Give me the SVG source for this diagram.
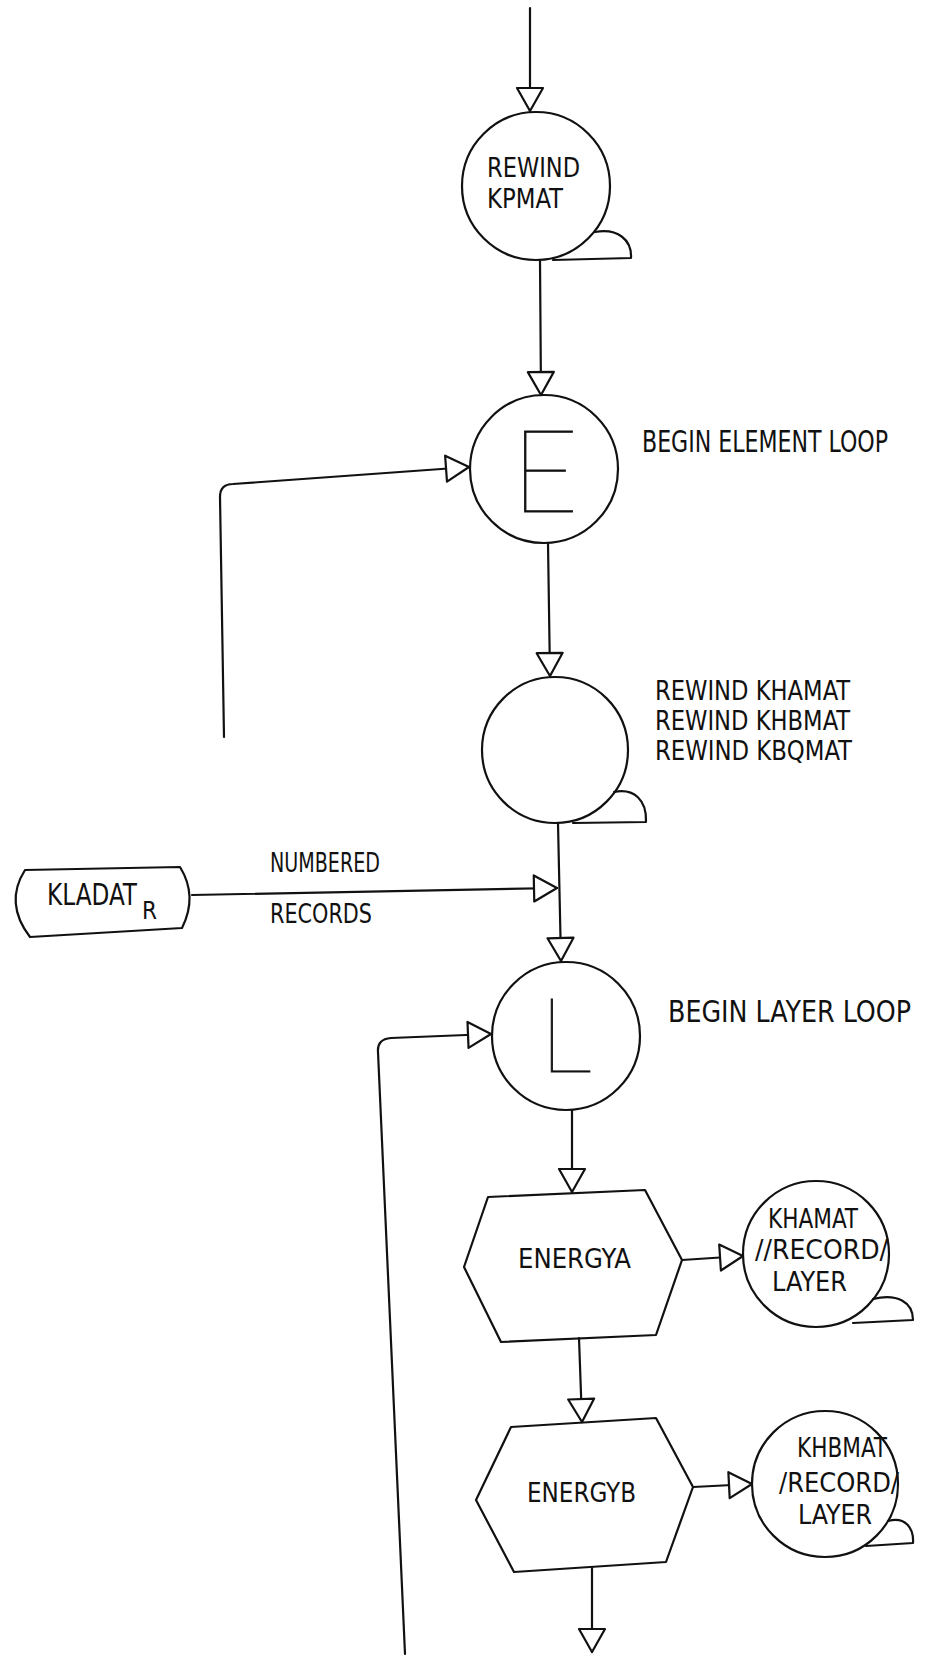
<svg xmlns="http://www.w3.org/2000/svg" width="929" height="1656" viewBox="0 0 929 1656">
<style>
.s{fill:none;stroke:#111;stroke-width:2.2;stroke-linecap:round;stroke-linejoin:round}
.t{font-family:"Liberation Sans Narrow","DejaVu Sans Condensed","Liberation Sans",sans-serif;font-size:30px;fill:#111}
.m{font-size:27px}
.k{font-size:27px}
.big{font-family:"Lato","Inter","DejaVu Sans",sans-serif;font-weight:100;fill:#111;stroke:#111;stroke-width:0.9}
</style>
<defs>
<marker id="ah" markerUnits="userSpaceOnUse" markerWidth="30" markerHeight="30" viewBox="-2 -2 30 30" refX="23" refY="13" orient="auto" overflow="visible">
<path d="M0,0 L23,13 L0,26 Z" fill="#fff" stroke="#111" stroke-width="2.2" stroke-linejoin="round"/>
</marker>
</defs>
<rect width="929" height="1656" fill="#fff"/>
<g id="connectors" class="s" marker-end="url(#ah)">
<path d="M530,8 L530,111"/>
<path d="M540,260 L541,395"/>
<path d="M548,543 L550,676"/>
<path d="M558,823 L561,961"/>
<path d="M192,895 L557,888"/>
<path d="M224,737 L220,497 Q220,484 233,484 L469,467"/>
<path d="M572,1110 L572,1192"/>
<path d="M682,1260 L743,1256"/>
<path d="M579,1338 L582,1422"/>
<path d="M693,1487 L752,1484"/>
<path d="M592,1567 L592,1652"/>
<path d="M405,1654 L378,1052 Q377,1039 391,1038 L491,1034"/>
</g>
<g id="rewind-kpmat">
<circle class="s" cx="536" cy="186" r="74"/>
<path class="s" d="M595,232 C618,228 632,240 631,258 L553,260"/>
<text class="t k" x="487" y="177" textLength="93" lengthAdjust="spacingAndGlyphs">REWIND</text>
<text class="t k" x="487" y="208" textLength="76" lengthAdjust="spacingAndGlyphs">KPMAT</text>
</g>
<g id="element-loop">
<circle class="s" cx="544" cy="469" r="74"/>
<text class="big" x="511" y="512" font-size="117">E</text>
<text class="t" x="642" y="452" textLength="246" lengthAdjust="spacingAndGlyphs">BEGIN ELEMENT LOOP</text>
</g>
<g id="rewind-three">
<circle class="s" cx="555" cy="750" r="73"/>
<path class="s" d="M614,792 C634,788 647,800 646,822 L573,823"/>
<text class="t k" x="655" y="700" textLength="195" lengthAdjust="spacingAndGlyphs">REWIND KHAMAT</text>
<text class="t k" x="655" y="730" textLength="195" lengthAdjust="spacingAndGlyphs">REWIND KHBMAT</text>
<text class="t k" x="655" y="760" textLength="197" lengthAdjust="spacingAndGlyphs">REWIND KBQMAT</text>
</g>
<g id="kladat">
<path class="s" d="M25,870 L180,867 Q198,896 182,928 L30,937 Q4,903 25,870 Z"/>
<text class="t" x="47" y="905"><tspan textLength="90" lengthAdjust="spacingAndGlyphs">KLADAT</tspan><tspan x="142" y="919" font-size="24">R</tspan></text>
</g>
<g id="numbered-records-label">
<text class="t m" x="270" y="872" textLength="110" lengthAdjust="spacingAndGlyphs">NUMBERED</text>
<text class="t m" x="270" y="923" textLength="102" lengthAdjust="spacingAndGlyphs">RECORDS</text>
</g>
<g id="layer-loop">
<circle class="s" cx="566" cy="1036" r="74"/>
<text class="big" x="539" y="1072" font-size="105">L</text>
<text class="t" x="668" y="1022" textLength="243" lengthAdjust="spacingAndGlyphs">BEGIN LAYER LOOP</text>
</g>
<g id="energya">
<polygon class="s" points="488,1197 645,1190 682,1260 656,1335 501,1342 464,1267"/>
<text class="t m" x="518" y="1268" textLength="113" lengthAdjust="spacingAndGlyphs">ENERGYA</text>
</g>
<g id="khamat">
<circle class="s" cx="816" cy="1254" r="73"/>
<path class="s" d="M873,1299 C897,1293 913,1302 913,1320 L853,1323"/>
<text class="t k" x="768" y="1228" textLength="90" lengthAdjust="spacingAndGlyphs">KHAMAT</text>
<text class="t k" x="755" y="1259" textLength="133" lengthAdjust="spacingAndGlyphs">//RECORD/</text>
<text class="t k" x="772" y="1291" textLength="75" lengthAdjust="spacingAndGlyphs">LAYER</text>
</g>
<g id="energyb">
<polygon class="s" points="511,1427 656,1418 693,1487 666,1562 514,1572 476,1500"/>
<text class="t m" x="527" y="1502" textLength="109" lengthAdjust="spacingAndGlyphs">ENERGYB</text>
</g>
<g id="khbmat">
<circle class="s" cx="825" cy="1484" r="73"/>
<path class="s" d="M888,1521 C905,1516 914,1528 913,1543 L866,1546"/>
<text class="t k" x="797" y="1457" textLength="90" lengthAdjust="spacingAndGlyphs">KHBMAT</text>
<text class="t k" x="779" y="1492" textLength="120" lengthAdjust="spacingAndGlyphs">/RECORD/</text>
<text class="t k" x="798" y="1524" textLength="74" lengthAdjust="spacingAndGlyphs">LAYER</text>
</g>
</svg>
